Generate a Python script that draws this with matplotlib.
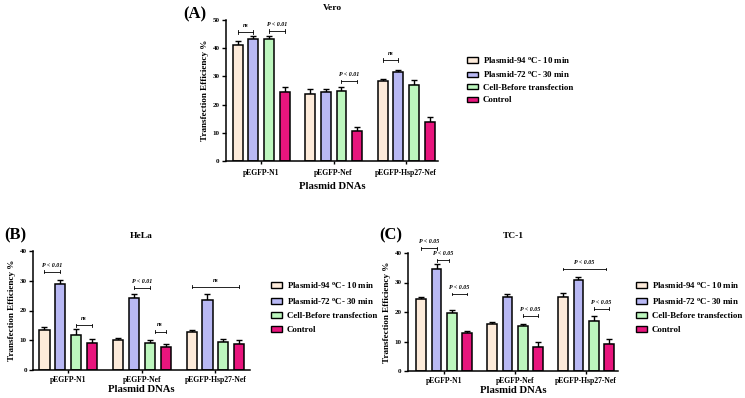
import matplotlib
matplotlib.use("Agg")
import matplotlib.pyplot as plt
import numpy as np
from matplotlib.patches import Patch

plt.rcParams['font.family'] = ['Liberation Serif', 'DejaVu Serif']
plt.rcParams['font.weight'] = 'bold'
plt.rcParams['mathtext.fontset'] = 'custom'
plt.rcParams['mathtext.rm'] = 'Liberation Serif:bold'
plt.rcParams['mathtext.it'] = 'Liberation Serif:bold:italic'
plt.rcParams['mathtext.bf'] = 'Liberation Serif:bold'

categories = ['pEGFP-N1', 'pEGFP-Nef', 'pEGFP-Hsp27-Nef']
series_names = [r'Plasmid-94 $^{\rm o}$C- 10 min', r'Plasmid-72 $^{\rm o}$C- 30 min',
                'Cell-Before transfection', 'Control']
colors = ['#FDEBDA', '#B8B8F4', '#BDF7BE', '#E8157D']

# Vero
vero_p94 = [41.2, 23.8, 28.3]; vero_p94_err = [1.2, 1.7, 0.8]
vero_p72 = [43.3, 24.5, 31.4]; vero_p72_err = [1.2, 1.2, 1.0]
vero_cell = [43.3, 24.8, 27.1]; vero_cell_err = [0.9, 1.4, 1.7]
vero_ctrl = [24.6, 10.7, 13.8]; vero_ctrl_err = [1.6, 1.4, 1.8]
vero_brackets = [(0, 0, 1, 45.8, 'ns'), (0, 2, 3, 46.1, 'P < 0.01'),
                 (1, 2, 3, 28.3, 'P < 0.01'), (2, 0, 1, 35.8, 'ns')]

# HeLa
hela_p94 = [13.3, 10.0, 12.9]; hela_p94_err = [1.1, 0.8, 0.6]
hela_p72 = [28.9, 24.1, 23.5]; hela_p72_err = [1.5, 1.3, 1.9]
hela_cell = [11.9, 9.1, 9.4]; hela_cell_err = [1.8, 0.9, 1.1]
hela_ctrl = [9.1, 7.7, 8.7]; hela_ctrl_err = [1.4, 1.2, 1.3]
hela_brackets = [(0, 0, 1, 33.0, 'P < 0.01'), (0, 2, 3, 15.0, 'ns'),
                 (1, 1, 2, 27.6, 'P < 0.01'), (1, 2.3, 3, 12.9, 'ns'),
                 (2, 0, 3, 28.0, 'ns')]

# TC-1
tc1_p94 = [24.5, 15.9, 25.2]; tc1_p94_err = [0.5, 0.6, 1.1]
tc1_p72 = [34.6, 25.0, 30.8]; tc1_p72_err = [1.8, 1.1, 0.9]
tc1_cell = [19.7, 15.2, 17.0]; tc1_cell_err = [1.1, 0.8, 1.5]
tc1_ctrl = [13.0, 8.0, 9.3]; tc1_ctrl_err = [0.6, 1.7, 1.5]
tc1_brackets = [(0, 0, 1, 41.6, 'P < 0.05'), (0, 1, 1.8, 37.5, 'P < 0.05'),
                (0, 2, 3, 26.1, 'P < 0.05'), (1, 2, 3, 18.7, 'P < 0.05'),
                (2, 0, 2.8, 34.6, 'P < 0.05'), (2, 2, 3, 21.1, 'P < 0.05')]

fig = plt.figure(figsize=(7.45, 3.98), dpi=100)
W, H = 745.0, 398.0

pitch = 0.216
bw = 0.137


def draw_panel(rect, series, errs, ymax, title, title_y, letter, letter_xy, brackets, xlim,
               legend_pos, legend_spacing, tick_pad, xlabel_pad):
    ax = fig.add_axes(rect)
    x = np.arange(len(categories))
    for i, (vals, er) in enumerate(zip(series, errs)):
        pos = x + (i - 1.5) * pitch
        ax.bar(pos, vals, width=bw, color=colors[i], edgecolor='black', linewidth=1.1, zorder=2)
        ax.errorbar(pos, vals, yerr=[np.zeros(len(er)), er], fmt='none', ecolor='black',
                    elinewidth=1.0, capsize=2.5, capthick=1.0, zorder=1)
    for g, i0, i1, y, lab in brackets:
        x0 = g + (i0 - 1.5) * pitch
        x1 = g + (i1 - 1.5) * pitch
        ax.plot([x0, x1], [y, y], color='black', lw=0.6, clip_on=False)
        d = ymax * 0.012
        ax.plot([x0, x0], [y - d, y + d], color='black', lw=0.6, clip_on=False)
        ax.plot([x1, x1], [y - d, y + d], color='black', lw=0.6, clip_on=False)
        ax.annotate(lab, ((x0 + x1) / 2, y), xytext=(0, 3), textcoords='offset points',
                    ha='center', va='bottom', fontsize=4.3, style='italic', fontweight='bold',
                    annotation_clip=False)
    ax.set_ylim(0, ymax)
    ax.set_yticks(np.arange(0, ymax + 1, 10))
    ax.set_xlim(*xlim)
    ax.set_xticks(x)
    ax.set_xticklabels(categories, fontsize=5.5, fontweight='bold')
    ax.tick_params(axis='y', labelsize=5, length=3, width=1.0, pad=1.5)
    ax.tick_params(axis='x', length=2.5, width=1.0, pad=tick_pad)
    for lbl in ax.get_yticklabels():
        lbl.set_fontweight('bold')
    for s in ['top', 'right']:
        ax.spines[s].set_visible(False)
    for s in ['left', 'bottom']:
        ax.spines[s].set_linewidth(1.1)
    ax.set_ylabel('Transfection Efficiency %', fontsize=6.6, fontweight='bold', labelpad=3)
    ax.set_xlabel('Plasmid DNAs', fontsize=7.7, fontweight='bold', labelpad=xlabel_pad)
    cx = rect[0] + rect[2] / 2
    fig.text(cx, 1 - title_y / H, title, fontsize=6.8, fontweight='bold', ha='center', va='center')
    fig.text(letter_xy[0] / W, 1 - letter_xy[1] / H, letter, fontsize=12, fontweight='bold',
             ha='left', va='center')
    handles = [Patch(facecolor=c, edgecolor='black', linewidth=1.0) for c in colors]
    fig.legend(handles, series_names, loc='upper left', bbox_to_anchor=legend_pos,
               frameon=False, prop={'weight': 'bold', 'size': 6.4},
               handlelength=1.2, handleheight=0.55, handletextpad=0.6,
               labelspacing=legend_spacing, borderpad=0, borderaxespad=0)
    return ax


draw_panel([226 / W, 1 - 161 / H, (438 - 226) / W, (161 - 20) / H],
           [vero_p94, vero_p72, vero_cell, vero_ctrl],
           [vero_p94_err, vero_p72_err, vero_cell_err, vero_ctrl_err],
           50, 'Vero', 8, '(A)', (183, 14), vero_brackets, (-0.486, 2.44),
           (467 / W, 1 - 55 / H), 0.5, 3, 4)

draw_panel([33 / W, 1 - 370 / H, (250 - 33) / W, (370 - 251) / H],
           [hela_p94, hela_p72, hela_cell, hela_ctrl],
           [hela_p94_err, hela_p72_err, hela_cell_err, hela_ctrl_err],
           40, 'HeLa', 236, '(B)', (4, 235), hela_brackets, (-0.48, 2.47),
           (271 / W, 1 - 280 / H), 0.68, 2, 0.5)

draw_panel([408 / W, 1 - 371 / H, (618 - 408) / W, (371 - 253) / H],
           [tc1_p94, tc1_p72, tc1_cell, tc1_ctrl],
           [tc1_p94_err, tc1_p72_err, tc1_cell_err, tc1_ctrl_err],
           40, 'TC-1', 236, '(C)', (379, 235), tc1_brackets, (-0.51, 2.45),
           (636 / W, 1 - 280 / H), 0.68, 2, 0.5)

fig.savefig('out.png', dpi=100)
